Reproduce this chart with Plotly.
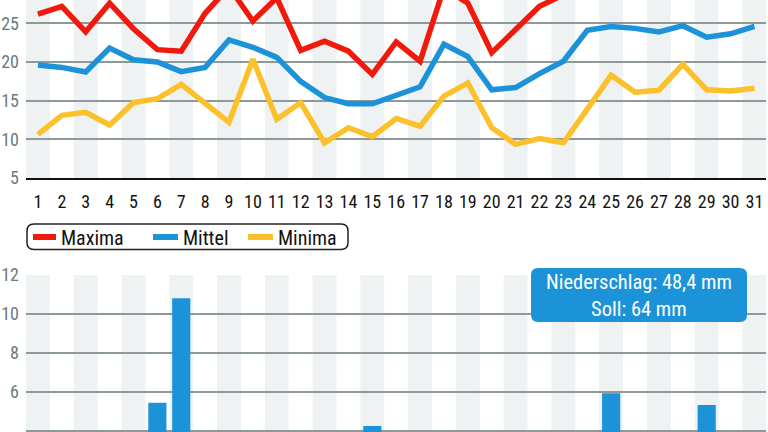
import plotly.graph_objects as go

days = list(range(1, 32))
maxima = [26.2, 27.2, 23.9, 27.6, 24.3, 21.6, 21.4, 26.3, 29.7, 25.3, 28.3, 21.5, 22.7, 21.4, 18.4,
          22.6, 20.1, 29.6, 27.6, 21.2, 24.2, 27.2, 28.7, 30.3, 31.2, 30.6, 30.0, 31.5, 29.8, 30.5, 31.6]
mittel = [19.6, 19.3, 18.7, 21.8, 20.3, 20.0, 18.75, 19.3, 22.85, 21.9, 20.6, 17.5, 15.4, 14.6, 14.6,
          15.7, 16.8, 22.3, 20.7, 16.4, 16.7, 18.5, 20.1, 24.1, 24.6, 24.35, 23.9, 24.7, 23.2, 23.65, 24.6]
minima = [10.65, 13.1, 13.5, 11.85, 14.75, 15.25, 17.1, 14.75, 12.2, 20.35, 12.6, 14.75, 9.55, 11.5, 10.35,
          12.7, 11.7, 15.6, 17.3, 11.5, 9.35, 10.1, 9.55, 13.9, 18.3, 16.1, 16.35, 19.7, 16.4, 16.25, 16.6]
niederschlag = [0, 0, 0, 0, 0, 5.44, 10.8, 0, 0, 0, 0, 0, 0, 0, 4.24,
                0, 0, 0, 0, 0, 0, 0, 0, 0, 5.92, 0, 0, 0, 5.32, 0, 0]
temp_ticks = [5, 10, 15, 20, 25]
rain_ticks = [4, 6, 8, 10, 12]
series_names = ["Maxima", "Mittel", "Minima"]
box_lines = ["Niederschlag: 48,4 mm", "Soll: 64 mm"]

RED = "#f0190c"
BLUE = "#1c93d8"
YELLOW = "#fcc12a"
GRID = "#8e9a9a"
STRIPE = "#eef2f3"
FONT = "Roboto Condensed, Liberation Sans Narrow, Roboto"

W, H = 768, 432
def px(x):
    return x / W
def py(y):
    return 1 - y / H

fig = go.Figure()
for name, vals, col in zip(series_names, [maxima, mittel, minima], [RED, BLUE, YELLOW]):
    fig.add_trace(go.Scatter(x=days, y=vals, mode="lines", name=name,
                             line=dict(color=col, width=5.5), xaxis="x", yaxis="y",
                             showlegend=False, cliponaxis=True))
fig.add_trace(go.Bar(x=days, y=niederschlag, marker=dict(color=BLUE, line=dict(width=0)),
                     width=0.76, xaxis="x2", yaxis="y2", showlegend=False))

xdom = [26.0 / W, 766.4 / W]
fig.update_layout(
    width=W, height=H, margin=dict(l=0, r=0, t=0, b=0, autoexpand=False),
    paper_bgcolor="white", plot_bgcolor="white",
    font=dict(family=FONT),
    xaxis=dict(domain=xdom, range=[0.5, 31.5], tickmode="array", tickvals=days,
               ticktext=[str(d) for d in days], showgrid=False, zeroline=False,
               showline=True, linecolor="#111111", linewidth=2, automargin=False,
               tickfont=dict(size=18, color="#111111"), ticks="", ticklabelstandoff=6,
               fixedrange=True),
    yaxis=dict(domain=[py(178), 1], range=[5, 5 + 178 / 7.733], tickvals=temp_ticks,
               showgrid=True, gridcolor=GRID, gridwidth=2, zeroline=False, automargin=False,
               tickfont=dict(size=18, color="#6c7a7a"), ticks="", ticklabelstandoff=6),
    xaxis2=dict(domain=xdom, range=[0.5, 31.5], anchor="y2", showticklabels=False,
                showgrid=False, zeroline=False, showline=False, automargin=False),
    yaxis2=dict(domain=[0, py(275)], range=[4 - (432 - 430.7) / 19.45, 12], anchor="x2",
                tickvals=rain_ticks, showgrid=True, gridcolor=GRID, gridwidth=2, automargin=False,
                zeroline=False, tickfont=dict(size=18, color="#6c7a7a"), ticks="",
                ticklabelstandoff=6),
)

shapes = []
for d in days:
    if d % 2 == 1:
        for xr, yr in (("x", "y domain"), ("x2", "y2 domain")):
            shapes.append(dict(type="rect", xref=xr, yref=yr, x0=d - 0.5, x1=d + 0.5,
                               y0=0, y1=1, fillcolor=STRIPE, line=dict(width=0),
                               layer="below"))

def rounded(x0, y0, x1, y1, r):
    rx, ry = r / W, r / H
    X0, X1 = px(x0), px(x1)
    Y0, Y1 = py(y1), py(y0)
    return (f"M {X0+rx},{Y1} L {X1-rx},{Y1} Q {X1},{Y1} {X1},{Y1-ry} "
            f"L {X1},{Y0+ry} Q {X1},{Y0} {X1-rx},{Y0} L {X0+rx},{Y0} "
            f"Q {X0},{Y0} {X0},{Y0+ry} L {X0},{Y1-ry} Q {X0},{Y1} {X0+rx},{Y1} Z")

shapes.append(dict(type="path", xref="paper", yref="paper",
                   path=rounded(27, 224, 348, 249.5, 7),
                   line=dict(color="#222222", width=1.5), fillcolor="rgba(0,0,0,0)"))
shapes.append(dict(type="path", xref="paper", yref="paper",
                   path=rounded(531, 268, 747, 322, 7),
                   line=dict(width=0), fillcolor=BLUE, layer="above"))

annotations = []
leg_items = [(33, 56, 59), (153, 178, 181), (248, 273, 276)]
for (l0, l1, tx), name, col in zip(leg_items, series_names, [RED, BLUE, YELLOW]):
    shapes.append(dict(type="line", xref="paper", yref="paper", x0=px(l0), x1=px(l1),
                       y0=py(237), y1=py(237), line=dict(color=col, width=6)))
    annotations.append(dict(xref="paper", yref="paper", x=px(tx), y=py(237.5),
                            xanchor="left", yanchor="middle", text=name, showarrow=False,
                            font=dict(size=20, color="#111111", family=FONT)))

annotations.append(dict(xref="paper", yref="paper", x=px(639), y=py(295.5),
                        xanchor="center", yanchor="middle", showarrow=False,
                        text="<br>".join(box_lines), align="center",
                        font=dict(size=20.5, color="white", family=FONT)))

fig.update_layout(shapes=shapes, annotations=annotations)
fig.write_html("out.html", config={"displayModeBar": False},
               post_script="document.body.style.margin='0';document.body.style.overflow='hidden';")
